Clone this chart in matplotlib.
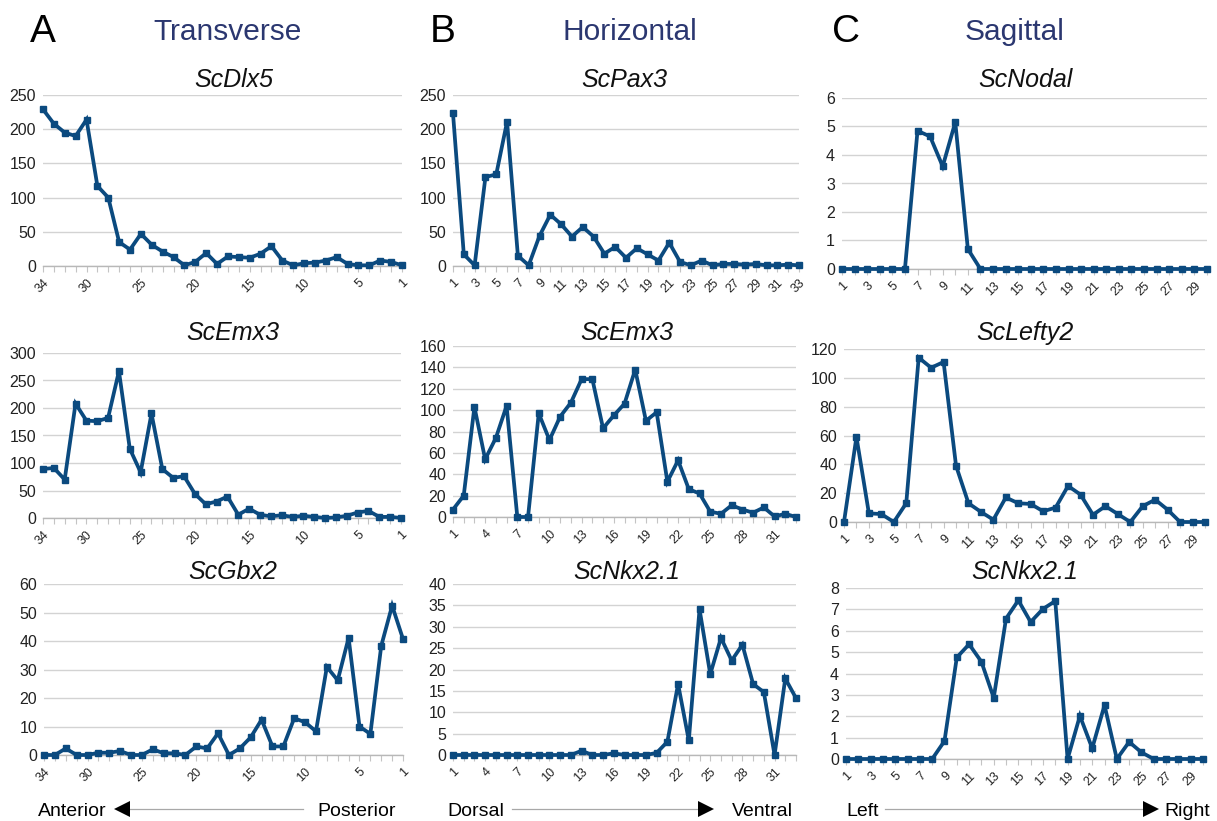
import matplotlib
matplotlib.use("Agg")
import matplotlib.pyplot as plt
from matplotlib.lines import Line2D

plt.rcParams['font.family'] = ['Liberation Sans', 'DejaVu Sans']

# ---- section categories -------------------------------------------------
transverse_sections = [34, 33, 32, 31, 30, 29, 28, 27, 26, 25, 24, 23, 22, 21, 20, 19, 18,
                       17, 16, 15, 14, 13, 12, 11, 10, 9, 8, 7, 6, 5, 4, 3, 2, 1]
transverse_labels = [34, 30, 25, 20, 15, 10, 5, 1]

horizontal_sections = [1, 2, 3, 4, 5, 6, 7, 8, 9, 10, 11, 12, 13, 14, 15, 16, 17, 18, 19, 20,
                       21, 22, 23, 24, 25, 26, 27, 28, 29, 30, 31, 32, 33]
horizontal_labels_pax3 = [1, 3, 5, 7, 9, 11, 13, 15, 17, 19, 21, 23, 25, 27, 29, 31, 33]
horizontal_labels = [1, 4, 7, 10, 13, 16, 19, 22, 25, 28, 31]

sagittal_sections = [1, 2, 3, 4, 5, 6, 7, 8, 9, 10, 11, 12, 13, 14, 15, 16, 17, 18, 19, 20,
                     21, 22, 23, 24, 25, 26, 27, 28, 29, 30]
sagittal_labels = [1, 3, 5, 7, 9, 11, 13, 15, 17, 19, 21, 23, 25, 27, 29]

# ---- expression values ---------------------------------------------------
dlx5_transverse = [229, 208, 195, 190, 214, 117, 100, 35, 24, 47, 31, 21, 13, 1, 6, 19, 3,
                   14, 13, 12, 18, 29, 8, 1, 4, 5, 8, 13, 3, 1, 1, 8, 6, 1]
emx3_transverse = [89, 91, 70, 208, 177, 176, 182, 267, 126, 83, 190, 89, 73, 76, 44, 25, 30,
                   39, 6, 17, 6, 3, 5, 2, 4, 2, 0, 1, 4, 10, 13, 2, 2, 0]
gbx2_transverse = [0, 0, 2.3, 0, 0, 0.8, 0.8, 1.4, 0, 0, 2, 0.6, 0.6, 0, 3, 2.3, 7.6,
                   0, 2.3, 6.2, 12.4, 3, 3, 12.9, 11.5, 8.3, 30.9, 26.2, 41.1, 10, 7.4, 38.3,
                   52.4, 40.7]

pax3_horizontal = [223, 17, 1, 130, 134, 211, 15, 1, 44, 75, 61, 43, 57, 43, 18, 28, 12,
                   26, 17, 8, 34, 6, 1, 8, 1, 3, 3, 2, 3, 1, 1, 2, 1]
emx3_horizontal = [7, 20, 103, 54, 74, 104, 0, 0, 97, 72, 94, 107, 129, 129, 83, 95, 106,
                   138, 90, 98, 33, 53, 26, 22, 5, 3, 11, 7, 4, 9, 0.5, 3, 0]
nkx21_horizontal = [0, 0, 0, 0, 0, 0, 0, 0, 0, 0, 0, 0, 1, 0, 0, 0.4, 0, 0, 0, 0.5, 3.1,
                    16.6, 3.4, 34.1, 18.9, 27.4, 22.1, 25.8, 16.6, 14.7, 0, 17.9, 13.3]

nodal_sagittal = [0, 0, 0, 0, 0, 0, 4.85, 4.65, 3.6, 5.15, 0.7, 0, 0, 0, 0, 0, 0, 0, 0, 0,
                  0, 0, 0, 0, 0, 0, 0, 0, 0, 0]
lefty2_sagittal = [0, 59, 6, 5.5, 0, 13, 114, 107, 111, 39, 13, 7, 1.6, 17, 13, 12.5, 7.4,
                   10, 25, 19, 5, 11, 5.5, 0, 11, 15.5, 8.5, 0, 0, 0]
nkx21_sagittal = [0, 0, 0, 0, 0, 0, 0, 0, 0.84, 4.75, 5.37, 4.55, 2.86, 6.57, 7.42, 6.41,
                  7.02, 7.39, 0, 2.02, 0.5, 2.52, 0, 0.8, 0.31, 0, 0, 0, 0, 0]

W, H = 1217, 821
fig = plt.figure(figsize=(W / 100, H / 100), dpi=100)
fig.patch.set_facecolor('white')

LINE = '#0b4a7f'
GRID = '#d3d3d3'
HEAD = '#2b3770'


def px_axes(left, right, top, bottom):
    return fig.add_axes([left / W, 1 - bottom / H, (right - left) / W, (bottom - top) / H])


def panel(box, title, title_x, title_y, cats, shown, values, ymax, ystep):
    ax = px_axes(*box)
    xs = list(range(len(cats)))
    ax.plot(xs, values, color=LINE, lw=2.7, marker='s', ms=5, mfc=LINE, mec=LINE,
            clip_on=False, zorder=3, solid_joinstyle='miter')
    ax.set_xlim(0, len(cats) - 1)
    ax.set_ylim(0, ymax)
    yt = [ystep * k for k in range(int(round(ymax / ystep)) + 1)]
    ax.set_yticks(yt)
    ax.set_yticklabels([f'{v:g}' for v in yt])
    ax.set_xticks(xs)
    ax.set_xticklabels([str(c) if c in shown else '' for c in cats],
                       rotation=45, ha='right', va='top', rotation_mode='anchor')
    ax.grid(axis='y', color=GRID, lw=1.0)
    ax.set_axisbelow(True)
    for s in ('top', 'right', 'left'):
        ax.spines[s].set_visible(False)
    ax.spines['bottom'].set_color('#b8b8b8')
    ax.spines['bottom'].set_linewidth(1.0)
    ax.tick_params(axis='y', length=0, pad=5, labelsize=11.5, labelcolor='#222222')
    ax.tick_params(axis='x', length=4, width=0.8, color='#c4c4c4', pad=4,
                   labelsize=9, labelcolor='#222222')
    fig.text(title_x / W, 1 - title_y / H, title, fontsize=18, style='italic',
             ha='center', va='baseline', color='#111111')
    return ax


# column A: transverse
panel((43, 402, 95, 266), 'ScDlx5', 234, 87, transverse_sections, transverse_labels,
      dlx5_transverse, 250, 50)
panel((43, 401, 353, 518), 'ScEmx3', 233, 340, transverse_sections, transverse_labels,
      emx3_transverse, 300, 50)
panel((44, 403, 584, 755), 'ScGbx2', 233, 579, transverse_sections, transverse_labels,
      gbx2_transverse, 60, 10)

# column B: horizontal
panel((453, 799, 95, 266), 'ScPax3', 624, 87, horizontal_sections, horizontal_labels_pax3,
      pax3_horizontal, 250, 50)
panel((453, 796, 346, 517), 'ScEmx3', 627, 340, horizontal_sections, horizontal_labels,
      emx3_horizontal, 160, 20)
panel((453, 796, 584, 755), 'ScNkx2.1', 627, 579, horizontal_sections, horizontal_labels,
      nkx21_horizontal, 40, 5)

# column C: sagittal
panel((842, 1207, 98, 269), 'ScNodal', 1025, 87, sagittal_sections, sagittal_labels,
      nodal_sagittal, 6, 1)
panel((844, 1205, 349, 522), 'ScLefty2', 1025, 340, sagittal_sections, sagittal_labels,
      lefty2_sagittal, 120, 20)
panel((846, 1203, 588, 759), 'ScNkx2.1', 1025, 579, sagittal_sections, sagittal_labels,
      nkx21_sagittal, 8, 1)

# column headers
for letter, lx, word, wx in (('A', 43, 'Transverse', 228),
                             ('B', 443, 'Horizontal', 630),
                             ('C', 846, 'Sagittal', 1015)):
    fig.text(lx / W, 1 - 42 / H, letter, fontsize=28, ha='center', va='baseline',
             color='#000000')
    fig.text(wx / W, 1 - 40 / H, word, fontsize=21.5, ha='center', va='baseline',
             color=HEAD)


# body-axis orientation arrows
def fx(x):
    return x / W


def fy(y):
    return 1 - y / H


AY = 809
BASE = 816
fig.text(fx(38), fy(BASE), 'Anterior', fontsize=14, ha='left', va='baseline')
fig.text(fx(396), fy(BASE), 'Posterior', fontsize=14, ha='right', va='baseline')
fig.add_artist(Line2D([fx(130), fx(303)], [fy(AY), fy(AY)], color='#a8a8a8', lw=0.9))
fig.add_artist(Line2D([fx(122)], [fy(AY)], marker='<', ms=12, color='black', mew=0))

fig.text(fx(447), fy(BASE), 'Dorsal', fontsize=14, ha='left', va='baseline')
fig.text(fx(793), fy(BASE), 'Ventral', fontsize=14, ha='right', va='baseline')
fig.add_artist(Line2D([fx(512), fx(700)], [fy(AY), fy(AY)], color='#a8a8a8', lw=0.9))
fig.add_artist(Line2D([fx(706)], [fy(AY)], marker='>', ms=12, color='black', mew=0))

fig.text(fx(846), fy(BASE), 'Left', fontsize=14, ha='left', va='baseline')
fig.text(fx(1210), fy(BASE), 'Right', fontsize=14, ha='right', va='baseline')
fig.add_artist(Line2D([fx(885), fx(1145)], [fy(AY), fy(AY)], color='#a8a8a8', lw=0.9))
fig.add_artist(Line2D([fx(1151)], [fy(AY)], marker='>', ms=12, color='black', mew=0))

fig.savefig('out.png', dpi=100, facecolor='white')
